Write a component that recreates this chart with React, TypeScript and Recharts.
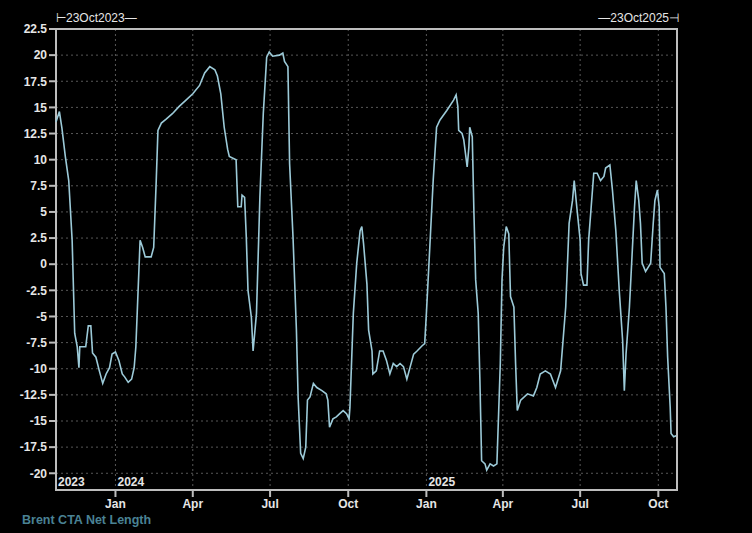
import { LineChart, Line, XAxis, YAxis, CartesianGrid, ReferenceArea } from "recharts";

const dates = [
  "2023-10-23", "2023-10-27", "2023-10-30", "2023-11-03", "2023-11-07", "2023-11-11", "2023-11-14", "2023-11-17", "2023-11-19", "2023-11-20",
  "2023-11-27", "2023-11-30", "2023-12-03", "2023-12-05", "2023-12-09", "2023-12-13", "2023-12-17", "2023-12-21", "2023-12-25", "2023-12-28",
  "2024-01-01", "2024-01-05", "2024-01-09", "2024-01-12", "2024-01-16", "2024-01-20", "2024-01-23", "2024-01-25", "2024-01-30", "2024-02-02",
  "2024-02-05", "2024-02-12", "2024-02-15", "2024-02-18", "2024-02-20", "2024-02-24", "2024-03-01", "2024-03-08", "2024-03-16", "2024-03-24",
  "2024-04-01", "2024-04-09", "2024-04-15", "2024-04-21", "2024-04-27", "2024-04-30", "2024-05-04", "2024-05-08", "2024-05-12", "2024-05-14",
  "2024-05-22", "2024-05-24", "2024-05-28", "2024-05-29", "2024-06-01", "2024-06-03", "2024-06-05", "2024-06-09", "2024-06-11", "2024-06-15",
  "2024-06-19", "2024-06-23", "2024-06-27", "2024-06-30", "2024-07-04", "2024-07-12", "2024-07-16", "2024-07-18", "2024-07-22", "2024-07-24",
  "2024-07-28", "2024-08-01", "2024-08-03", "2024-08-06", "2024-08-09", "2024-08-12", "2024-08-14", "2024-08-17", "2024-08-21", "2024-08-25",
  "2024-08-31", "2024-09-05", "2024-09-07", "2024-09-09", "2024-09-13", "2024-09-17", "2024-09-21", "2024-09-25", "2024-09-29", "2024-10-02",
  "2024-10-03", "2024-10-07", "2024-10-11", "2024-10-15", "2024-10-17", "2024-10-19", "2024-10-23", "2024-10-25", "2024-10-29", "2024-10-30",
  "2024-11-03", "2024-11-07", "2024-11-11", "2024-11-15", "2024-11-19", "2024-11-23", "2024-11-27", "2024-12-01", "2024-12-05", "2024-12-09",
  "2024-12-13", "2024-12-17", "2024-12-21", "2024-12-27", "2024-12-30", "2025-01-01", "2025-01-05", "2025-01-09", "2025-01-13", "2025-01-17",
  "2025-01-25", "2025-02-02", "2025-02-05", "2025-02-07", "2025-02-08", "2025-02-12", "2025-02-14", "2025-02-18", "2025-02-20", "2025-02-21",
  "2025-02-24", "2025-02-26", "2025-02-28", "2025-03-03", "2025-03-05", "2025-03-07", "2025-03-11", "2025-03-13", "2025-03-17", "2025-03-21",
  "2025-03-25", "2025-03-27", "2025-03-29", "2025-03-31", "2025-04-02", "2025-04-05", "2025-04-08", "2025-04-10", "2025-04-14", "2025-04-16",
  "2025-04-18", "2025-04-22", "2025-04-30", "2025-05-07", "2025-05-11", "2025-05-15", "2025-05-21", "2025-05-27", "2025-06-02", "2025-06-08",
  "2025-06-14", "2025-06-18", "2025-06-22", "2025-06-24", "2025-06-27", "2025-07-01", "2025-07-02", "2025-07-05", "2025-07-09", "2025-07-11",
  "2025-07-14", "2025-07-17", "2025-07-21", "2025-07-25", "2025-07-29", "2025-07-31", "2025-08-05", "2025-08-08", "2025-08-12", "2025-08-16",
  "2025-08-20", "2025-08-22", "2025-08-24", "2025-08-28", "2025-09-01", "2025-09-03", "2025-09-05", "2025-09-08", "2025-09-10", "2025-09-12",
  "2025-09-16", "2025-09-19", "2025-09-22", "2025-09-25", "2025-09-27", "2025-09-30", "2025-10-02", "2025-10-03", "2025-10-08", "2025-10-10",
  "2025-10-12", "2025-10-15", "2025-10-16", "2025-10-19", "2025-10-22",
];

const netLength = [
  13.6, 14.6, 13.0, 10.3, 8.0, 2.3, -6.6, -7.9, -9.9, -7.9,
  -7.9, -5.9, -5.9, -8.5, -8.9, -10.2, -11.4, -10.5, -9.9, -8.6,
  -8.4, -9.2, -10.5, -10.8, -11.3, -11.0, -9.9, -7.9, 2.3, 1.6,
  0.7, 0.7, 1.6, 8.0, 12.8, 13.5, 13.9, 14.4, 15.1, 15.7,
  16.3, 17.1, 18.3, 18.9, 18.6, 18.0, 16.3, 13.1, 11.0, 10.3,
  10.0, 5.5, 5.5, 6.6, 6.4, 2.6, -2.5, -5.1, -8.3, -4.7,
  6.4, 14.4, 19.8, 20.3, 19.9, 20.0, 20.2, 19.4, 18.9, 9.6,
  2.6, -6.3, -12.7, -18.1, -18.6, -17.5, -13.0, -12.7, -11.4, -11.8,
  -12.1, -12.4, -13.0, -15.6, -14.8, -14.6, -14.3, -14.0, -14.3, -14.8,
  -13.7, -4.7, 0.1, 3.2, 3.6, 2.0, -1.9, -6.3, -8.3, -10.5,
  -10.2, -8.3, -8.3, -9.2, -10.5, -9.5, -9.8, -9.5, -9.8, -11.0,
  -9.8, -8.6, -8.3, -7.8, -7.6, -4.7, 1.6, 8.0, 13.1, 13.8,
  14.7, 15.7, 16.2, 15.1, 12.8, 12.5, 11.9, 9.3, 11.2, 13.1,
  12.2, 4.8, -1.5, -4.7, -11.1, -18.8, -19.1, -19.7, -19.1, -19.3,
  -19.1, -14.3, -9.5, -1.5, 1.6, 3.6, 2.9, -3.1, -4.1, -9.5,
  -14.0, -13.0, -12.4, -12.6, -11.8, -10.5, -10.2, -10.5, -11.8, -10.2,
  -4.1, 3.9, 6.1, 8.0, 5.5, 2.3, -0.9, -2.0, -2.0, 2.3,
  5.5, 8.7, 8.7, 8.0, 8.4, 9.2, 9.5, 7.1, 3.2, -2.5,
  -7.3, -12.1, -8.6, -4.1, 2.3, 5.5, 8.0, 6.1, 3.9, 0.1,
  -0.7, -0.3, 0.1, 3.9, 6.1, 7.1, 5.5, -0.3, -0.9, -4.1,
  -8.9, -13.7, -16.2, -16.5, -16.4,
];

const yTicks = [22.5, 20, 17.5, 15, 12.5, 10, 7.5, 5, 2.5, 0, -2.5, -5, -7.5, -10, -12.5, -15, -17.5, -20];

const tickDates = ["2023-10-23", "2024-01-01", "2024-04-01", "2024-07-01", "2024-10-01", "2025-01-01", "2025-04-01", "2025-07-01", "2025-10-01"];
const tickMonths = ["", "Jan", "Apr", "Jul", "Oct", "Jan", "Apr", "Jul", "Oct"];
const tickYears = ["2023", "2024", "", "", "", "2025", "", "", ""];

const rangeStart = "2023-10-23";
const rangeEnd = "2025-10-23";
const rangeLabels = ["\u22a223Oct2023\u2014", "\u201423Oct2025\u22a3"];
const seriesName = "Brent CTA Net Length";

const tickTimes = tickDates.map((d) => Date.parse(d));
const data = dates.map((d, i) => ({ t: Date.parse(d), v: netLength[i] }));

const frame = "#bdbdbd";
const font = "'Liberation Sans', Arial, sans-serif";

function DateTick(props: any) {
  const { x, y, payload } = props;
  const i = tickTimes.indexOf(payload.value);
  const month = tickMonths[i];
  const year = tickYears[i];
  return (
    <g>
      {month && <line x1={x} x2={x} y1={y} y2={y + 7} stroke={frame} strokeWidth={2} />}
      {month && (
        <text x={x} y={y + 18} textAnchor="middle" fill="#e6e6e6" fontSize={12} fontWeight="bold" fontFamily={font}>
          {month}
        </text>
      )}
      {year && (
        <text x={x + 2} y={y - 4} textAnchor="start" fill="#e6e6e6" fontSize={12} fontWeight="bold" fontFamily={font}>
          {year}
        </text>
      )}
    </g>
  );
}

export default function App() {
  return (
    <div style={{ position: "absolute", left: 0, top: 0, width: 752, height: 533, background: "#000", overflow: "hidden" }}>
      <LineChart width={752} height={533} data={data} margin={{ top: 29, right: 75, bottom: 13, left: 0 }}>
        <CartesianGrid stroke="#575757" strokeDasharray="2 3" />
        <XAxis
          dataKey="t"
          type="number"
          domain={[Date.parse(rangeStart), Date.parse(rangeEnd)]}
          ticks={tickTimes}
          tick={<DateTick />}
          tickLine={false}
          tickSize={0}
          tickMargin={0}
          axisLine={false}
          height={30}
          interval={0}
        />
        <YAxis
          type="number"
          domain={[-21.6, 22.5]}
          ticks={yTicks}
          interval={0}
          width={56}
          axisLine={false}
          tickSize={7}
          tickMargin={2}
          tickLine={{ stroke: frame, strokeWidth: 2 }}
          tick={{ fill: "#e6e6e6", fontSize: 12, fontWeight: "bold", fontFamily: font }}
        />
        <ReferenceArea
          x1={Date.parse(rangeStart)}
          x2={Date.parse(rangeEnd)}
          y1={-21.6}
          y2={22.5}
          fill="none"
          stroke={frame}
          strokeWidth={2}
        />
        <Line
          type="linear"
          dataKey="v"
          stroke="#9ccad8"
          strokeWidth={1.6}
          dot={false}
          isAnimationActive={false}
        />
      </LineChart>
      <div style={{ position: "absolute", left: 56, top: 11, color: "#e6e6e6", fontSize: 12, fontFamily: font }}>
        {rangeLabels[0]}
      </div>
      <div style={{ position: "absolute", right: 752 - 679, top: 11, color: "#e6e6e6", fontSize: 12, fontFamily: font }}>
        {rangeLabels[1]}
      </div>
      <div style={{ position: "absolute", left: 22, top: 513, color: "#4a8294", fontSize: 12.5, fontWeight: "bold", fontFamily: font }}>
        {seriesName}
      </div>
    </div>
  );
}
